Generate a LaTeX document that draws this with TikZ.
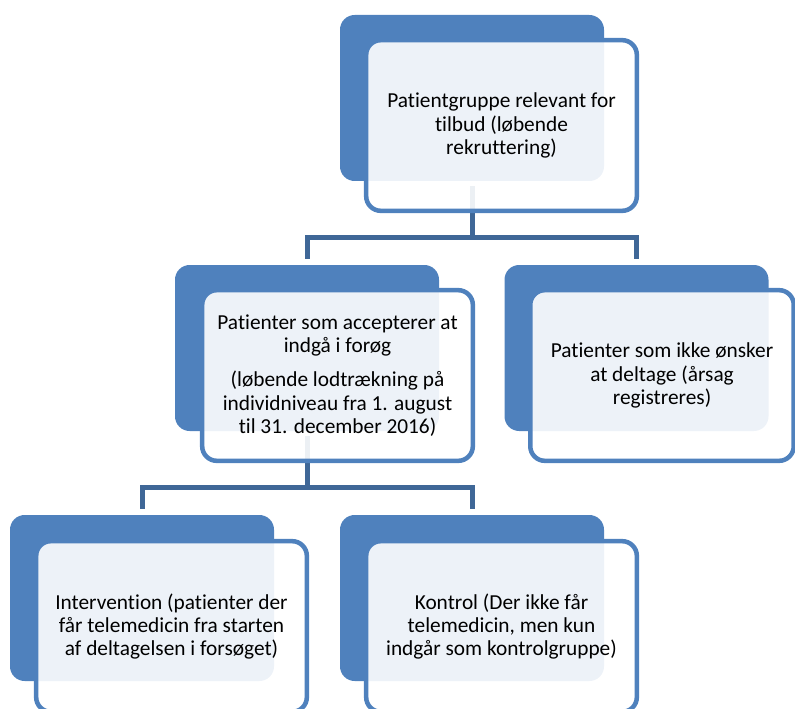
\documentclass[tikz,border=0pt]{standalone}
\usepackage{fontspec}
\setmainfont{Carlito}[Ligatures=NoCommon]
\usepackage{tikz}
\definecolor{accent}{HTML}{4F81BD}
\definecolor{linkblue}{HTML}{3F6797}

\begin{document}
\begin{tikzpicture}[x=0.75pt,y=-0.75pt,
    back/.style={rectangle,rounded corners=11pt,fill=accent,minimum width=198pt,minimum height=124.5pt,inner sep=0pt},
    front/.style={rectangle,rounded corners=11pt,draw=accent,line width=3.4pt,fill=white,fill opacity=0.9,text opacity=1,
       minimum width=203pt,minimum height=128pt,inner sep=0pt,align=center,font=\fontsize{16}{17.6}\selectfont},
    link/.style={draw=linkblue,line width=3.75pt,shorten <=3.75pt,shorten >=4.5pt}]
    \useasboundingbox (0,0) rectangle (795,709);
    \node[back] (root-back) at (472,98) {};
    \node[back] (accept-back) at (307,348) {};
    \node[back] (decline-back) at (636.5,348) {};
    \node[back] (interv-back) at (142,598) {};
    \node[back] (control-back) at (472,598) {};
    \draw[link] (root-back.south) -- ++(0,56) -| (accept-back.north);
    \draw[link] (root-back.south) -- ++(0,56) -| (decline-back.north);
    \draw[link] (accept-back.south) -- ++(0,56) -| (interv-back.north);
    \draw[link] (accept-back.south) -- ++(0,56) -| (control-back.north);
    \node[front] (root) at (501.5,125.5) {Patientgruppe relevant for\\tilbud (løbende\\rekruttering)};
    \node[front] (accept) at (337.5,375.5) {Patienter som accepterer at\\indgå i forøg\\[8pt](løbende lodtrækning på\\individniveau fra 1. august\\til 31. december 2016)};
    \node[front,minimum width=197.6pt] (decline) at (662,375.5) {Patienter som ikke ønsker\\at deltage (årsag\\registreres)};
    \node[front] (interv) at (171.5,626.5) {Intervention (patienter der\\får telemedicin fra starten\\af deltagelsen i forsøget)};
    \node[front] (control) at (501.5,626.5) {Kontrol (Der ikke får\\telemedicin, men kun\\indgår som kontrolgruppe)};
\end{tikzpicture}
\end{document}
